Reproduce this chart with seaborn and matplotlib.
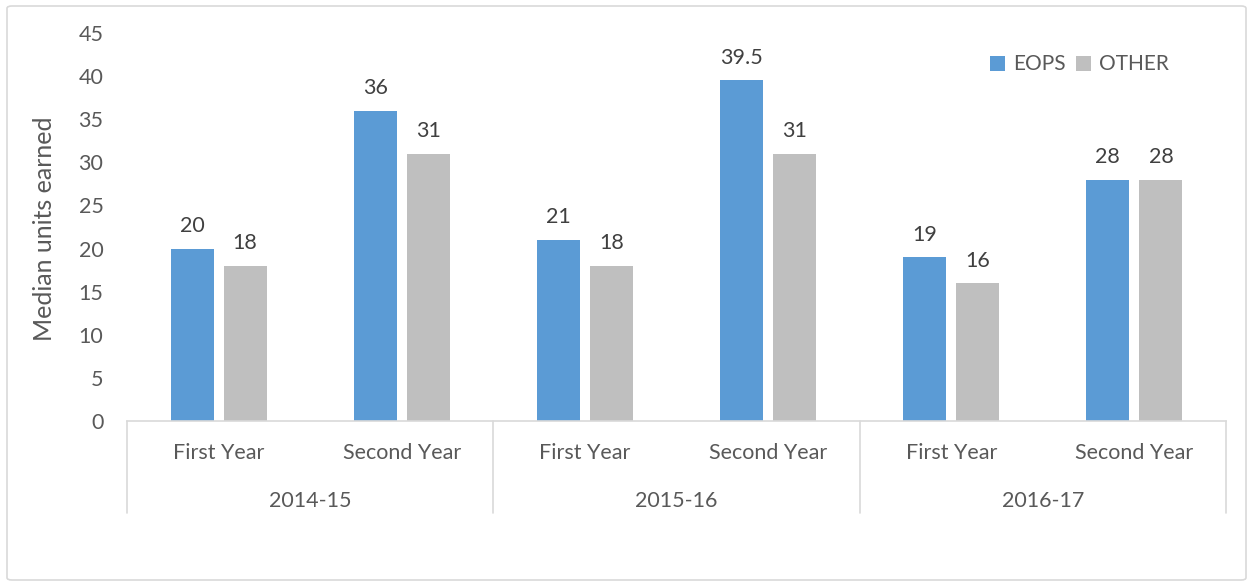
import pandas as pd
import matplotlib.pyplot as plt
import matplotlib.transforms as mtransforms
from matplotlib.patches import FancyBboxPatch
import seaborn as sns

# chart data
years = ["2014-15", "2015-16", "2016-17"]
periods = ["First Year", "Second Year"]
eops = [20, 36, 21, 39.5, 19, 28]
other = [18, 31, 18, 31, 16, 28]
groups = ["EOPS", "OTHER"]

TEXT = "#595959"
LINE = "#D9D9D9"

slots = [f"{y}|{p}" for y in years for p in periods]
df = pd.DataFrame({
    "slot": slots * 2,
    "group": ["EOPS"] * len(slots) + ["OTHER"] * len(slots),
    "value": eops + other,
})

sns.set_style("white")
plt.rcParams["font.family"] = ["Lato", "DejaVu Sans"]

fig = plt.figure(figsize=(12.53, 5.86), dpi=100)
ax = fig.add_axes([127 / 1253, 1 - 421 / 586, 1099 / 1253, 388 / 586])

# rounded chart border like the Excel frame
fig.patches.append(FancyBboxPatch((7 / 1253, 6 / 586), 1239 / 1253, 574 / 586,
                                  boxstyle="round,pad=0,rounding_size=0.004",
                                  transform=fig.transFigure, fill=False,
                                  edgecolor=LINE, linewidth=1.2))

sns.barplot(data=df, x="slot", y="value", hue="group", order=slots, hue_order=groups,
            palette=["#5B9BD5", "#BFBFBF"], width=0.58, gap=0.19,
            linewidth=0, saturation=1, ax=ax)

for cont in ax.containers:
    ax.bar_label(cont, labels=[f"{v:g}" for v in cont.datavalues],
                 padding=9, fontsize=15.5, color="#404040")

ax.set_xlim(-0.5, len(slots) - 0.5)
ax.set_ylim(0, 45)
ax.set_yticks(range(0, 46, 5))
ax.set_xticks(range(len(slots)))
ax.set_xticklabels([s.split("|")[1] for s in slots])
ax.tick_params(axis="y", length=0, pad=17, labelsize=15.5, labelcolor=TEXT)
ax.tick_params(axis="x", length=0, pad=16, labelsize=15.5, labelcolor=TEXT)
ax.set_xlabel("")
ax.set_ylabel("Median units earned", fontsize=18, color=TEXT)
ax.yaxis.set_label_coords(-0.0646, 0.496)

for side in ["top", "right", "left"]:
    ax.spines[side].set_visible(False)
ax.spines["bottom"].set_color(LINE)
ax.spines["bottom"].set_linewidth(1.2)

# multi-level category axis
trans = mtransforms.blended_transform_factory(ax.transData, ax.transAxes)
for i in range(len(years) + 1):
    xs = -0.5 + i * len(periods)
    ax.plot([xs, xs], [0, -0.238], transform=trans, color=LINE, lw=1.2, clip_on=False)
for i, y in enumerate(years):
    xc = i * len(periods) + (len(periods) - 1) / 2
    ax.text(xc, -0.205, y, transform=trans, ha="center", va="center",
            fontsize=15.5, color=TEXT)

ax.legend(loc="center left", bbox_to_anchor=(0.785, 0.919), ncol=2, frameon=False,
          fontsize=15, labelcolor=TEXT, handlelength=0.75, handleheight=0.75,
          handletextpad=0.35, columnspacing=0.5, borderpad=0, borderaxespad=0)

fig.savefig("out.png", dpi=100)
